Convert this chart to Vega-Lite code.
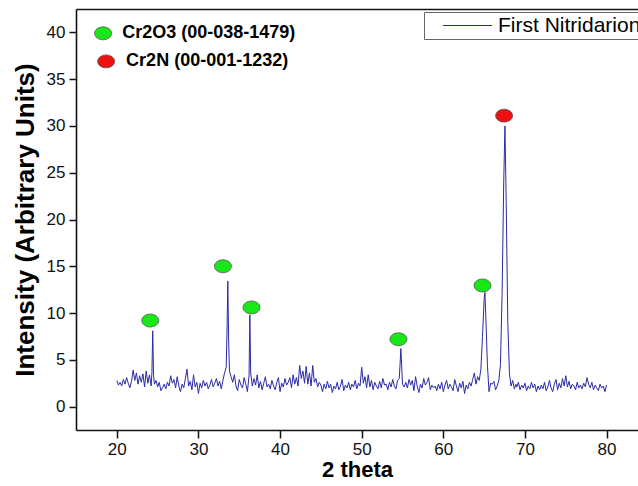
{
  "$schema": "https://vega.github.io/schema/vega-lite/v6.json",
  "width": 562,
  "height": 421,
  "autosize": "none",
  "padding": {"left": 76, "top": 9, "right": 0, "bottom": 56},
  "background": "white",
  "config": {
    "view": {"stroke": null},
    "font": "Liberation Sans",
    "axis": {
      "grid": false,
      "domainColor": "#111",
      "domainWidth": 1.6,
      "tickColor": "#111",
      "tickWidth": 1.5,
      "labelFont": "Liberation Sans",
      "labelFontSize": 17,
      "labelColor": "#111",
      "titleFont": "Liberation Sans",
      "titleFontWeight": "bold",
      "titleColor": "#000"
    }
  },
  "resolve": {"axis": {"x": "independent"}},
  "layer": [
    {
      "data": {"values": [
        {"x":20.0,"y":2.8},{"x":20.2,"y":2.3},{"x":20.4,"y":2.6},{"x":20.6,"y":2.2},{"x":20.8,"y":2.9},
        {"x":21.0,"y":2.4},{"x":21.2,"y":3.1},{"x":21.4,"y":2.5},{"x":21.6,"y":2.0},{"x":21.8,"y":2.7},
        {"x":22.0,"y":3.9},{"x":22.2,"y":2.8},{"x":22.4,"y":3.6},{"x":22.6,"y":2.4},{"x":22.8,"y":3.3},
        {"x":23.0,"y":2.6},{"x":23.2,"y":3.5},{"x":23.4,"y":2.1},{"x":23.6,"y":3.8},{"x":23.8,"y":2.5},
        {"x":24.0,"y":3.4},{"x":24.2,"y":2.2},{"x":24.3,"y":3.6},{"x":24.4,"y":8.1},{"x":24.5,"y":3.4},{"x":24.6,"y":2.4},{"x":24.8,"y":2.8},
        {"x":25.0,"y":2.1},{"x":25.2,"y":2.6},{"x":25.4,"y":1.7},{"x":25.6,"y":2.0},{"x":25.8,"y":2.4},
        {"x":26.0,"y":1.9},{"x":26.2,"y":2.6},{"x":26.4,"y":2.2},{"x":26.6,"y":3.3},{"x":26.8,"y":2.5},
        {"x":27.0,"y":2.9},{"x":27.2,"y":2.0},{"x":27.4,"y":3.2},{"x":27.6,"y":2.2},{"x":27.8,"y":1.6},
        {"x":28.0,"y":2.4},{"x":28.2,"y":2.0},{"x":28.4,"y":3.0},{"x":28.6,"y":4.0},{"x":28.8,"y":2.2},
        {"x":29.0,"y":2.7},{"x":29.2,"y":1.8},{"x":29.4,"y":3.4},{"x":29.6,"y":2.1},{"x":29.8,"y":2.6},
        {"x":30.0,"y":1.4},{"x":30.2,"y":2.5},{"x":30.4,"y":2.0},{"x":30.6,"y":2.8},{"x":30.8,"y":2.2},
        {"x":31.0,"y":2.6},{"x":31.2,"y":1.9},{"x":31.4,"y":2.3},{"x":31.6,"y":2.9},{"x":31.8,"y":2.1},
        {"x":32.0,"y":2.5},{"x":32.2,"y":3.0},{"x":32.4,"y":2.2},{"x":32.6,"y":2.7},{"x":32.8,"y":1.9},
        {"x":33.0,"y":2.8},{"x":33.2,"y":3.6},{"x":33.4,"y":4.2},{"x":33.5,"y":8.0},{"x":33.6,"y":13.4},{"x":33.7,"y":7.0},{"x":33.8,"y":3.8},
        {"x":34.0,"y":3.2},{"x":34.2,"y":2.6},{"x":34.4,"y":3.4},{"x":34.6,"y":2.2},{"x":34.8,"y":1.7},
        {"x":35.0,"y":2.9},{"x":35.2,"y":2.3},{"x":35.4,"y":2.0},{"x":35.6,"y":3.1},{"x":35.8,"y":2.4},
        {"x":36.0,"y":1.6},{"x":36.2,"y":3.3},{"x":36.3,"y":9.8},{"x":36.4,"y":3.6},{"x":36.6,"y":2.2},{"x":36.8,"y":3.0},
        {"x":37.0,"y":2.3},{"x":37.2,"y":3.4},{"x":37.4,"y":2.0},{"x":37.6,"y":2.7},{"x":37.8,"y":1.8},
        {"x":38.0,"y":2.5},{"x":38.2,"y":3.2},{"x":38.4,"y":2.1},{"x":38.6,"y":2.4},{"x":38.8,"y":1.9},
        {"x":39.0,"y":2.8},{"x":39.2,"y":2.2},{"x":39.4,"y":1.8},{"x":39.6,"y":2.6},{"x":39.8,"y":3.1},
        {"x":40.0,"y":1.6},{"x":40.2,"y":2.5},{"x":40.4,"y":2.1},{"x":40.6,"y":3.0},{"x":40.8,"y":2.3},
        {"x":41.0,"y":2.6},{"x":41.2,"y":3.1},{"x":41.4,"y":2.0},{"x":41.6,"y":3.4},{"x":41.8,"y":2.4},
        {"x":42.0,"y":3.1},{"x":42.2,"y":2.2},{"x":42.4,"y":4.4},{"x":42.6,"y":3.0},{"x":42.8,"y":3.8},
        {"x":43.0,"y":2.5},{"x":43.2,"y":4.3},{"x":43.4,"y":2.4},{"x":43.6,"y":3.6},{"x":43.8,"y":2.2},
        {"x":44.0,"y":4.4},{"x":44.2,"y":2.6},{"x":44.4,"y":3.0},{"x":44.6,"y":2.1},{"x":44.8,"y":2.6},
        {"x":45.0,"y":2.3},{"x":45.2,"y":1.6},{"x":45.4,"y":2.4},{"x":45.6,"y":1.9},{"x":45.8,"y":2.7},
        {"x":46.0,"y":2.0},{"x":46.2,"y":2.4},{"x":46.4,"y":1.5},{"x":46.6,"y":2.2},{"x":46.8,"y":1.9},
        {"x":47.0,"y":2.6},{"x":47.2,"y":1.8},{"x":47.4,"y":2.2},{"x":47.6,"y":2.9},{"x":47.8,"y":1.7},
        {"x":48.0,"y":2.3},{"x":48.2,"y":2.0},{"x":48.4,"y":2.6},{"x":48.6,"y":1.8},{"x":48.8,"y":2.4},
        {"x":49.0,"y":2.1},{"x":49.2,"y":2.8},{"x":49.4,"y":1.9},{"x":49.6,"y":2.5},{"x":49.8,"y":2.2},
        {"x":50.0,"y":4.2},{"x":50.2,"y":2.5},{"x":50.4,"y":3.2},{"x":50.6,"y":2.0},{"x":50.8,"y":3.4},
        {"x":51.0,"y":2.1},{"x":51.2,"y":2.8},{"x":51.4,"y":1.8},{"x":51.6,"y":2.6},{"x":51.8,"y":2.2},
        {"x":52.0,"y":1.9},{"x":52.2,"y":2.7},{"x":52.4,"y":2.0},{"x":52.6,"y":3.0},{"x":52.8,"y":2.3},
        {"x":53.0,"y":2.4},{"x":53.2,"y":1.8},{"x":53.4,"y":2.6},{"x":53.6,"y":2.1},{"x":53.8,"y":2.9},
        {"x":54.0,"y":2.2},{"x":54.2,"y":1.9},{"x":54.4,"y":2.8},{"x":54.6,"y":3.0},{"x":54.7,"y":4.5},{"x":54.8,"y":6.2},{"x":54.9,"y":4.3},
        {"x":55.0,"y":2.4},{"x":55.2,"y":2.1},{"x":55.4,"y":2.6},{"x":55.6,"y":2.0},{"x":55.8,"y":2.9},
        {"x":56.0,"y":2.3},{"x":56.2,"y":2.8},{"x":56.4,"y":1.7},{"x":56.6,"y":3.2},{"x":56.8,"y":2.2},
        {"x":57.0,"y":1.5},{"x":57.2,"y":2.4},{"x":57.4,"y":2.0},{"x":57.6,"y":3.0},{"x":57.8,"y":2.3},
        {"x":58.0,"y":2.6},{"x":58.2,"y":3.1},{"x":58.4,"y":1.8},{"x":58.6,"y":2.3},{"x":58.8,"y":2.0},
        {"x":59.0,"y":2.2},{"x":59.2,"y":1.7},{"x":59.4,"y":2.4},{"x":59.6,"y":1.9},{"x":59.8,"y":2.6},
        {"x":60.0,"y":1.6},{"x":60.2,"y":2.3},{"x":60.4,"y":2.8},{"x":60.6,"y":1.9},{"x":60.8,"y":2.4},
        {"x":61.0,"y":2.1},{"x":61.2,"y":1.7},{"x":61.4,"y":2.9},{"x":61.6,"y":2.2},{"x":61.8,"y":1.6},
        {"x":62.0,"y":2.5},{"x":62.2,"y":2.0},{"x":62.4,"y":2.7},{"x":62.6,"y":1.4},{"x":62.8,"y":2.3},
        {"x":63.0,"y":1.9},{"x":63.2,"y":2.6},{"x":63.4,"y":2.2},{"x":63.6,"y":2.9},{"x":63.8,"y":3.6},
        {"x":64.0,"y":2.4},{"x":64.2,"y":3.2},{"x":64.4,"y":2.8},{"x":64.6,"y":4.0},{"x":64.8,"y":7.5},
        {"x":65.0,"y":11.5},{"x":65.1,"y":12.2},{"x":65.25,"y":8.5},{"x":65.4,"y":4.5},{"x":65.6,"y":1.6},{"x":65.8,"y":2.5},
        {"x":66.0,"y":2.4},{"x":66.2,"y":2.7},{"x":66.4,"y":1.8},{"x":66.6,"y":2.2},{"x":66.8,"y":2.8},
        {"x":67.0,"y":4.5},{"x":67.2,"y":12.0},{"x":67.4,"y":24.0},{"x":67.55,"y":30.0},{"x":67.7,"y":22.0},{"x":67.9,"y":9.0},
        {"x":68.1,"y":3.5},{"x":68.3,"y":2.2},{"x":68.5,"y":2.8},{"x":68.7,"y":1.9},{"x":68.9,"y":2.4},
        {"x":69.0,"y":2.1},{"x":69.2,"y":2.6},{"x":69.4,"y":1.8},{"x":69.6,"y":2.3},{"x":69.8,"y":2.0},
        {"x":70.0,"y":2.5},{"x":70.2,"y":1.7},{"x":70.4,"y":2.2},{"x":70.6,"y":1.9},{"x":70.8,"y":2.6},
        {"x":71.0,"y":2.0},{"x":71.2,"y":2.4},{"x":71.4,"y":1.6},{"x":71.6,"y":2.2},{"x":71.8,"y":1.8},
        {"x":72.0,"y":2.3},{"x":72.2,"y":1.9},{"x":72.4,"y":2.6},{"x":72.6,"y":1.7},{"x":72.8,"y":2.1},
        {"x":73.0,"y":2.8},{"x":73.2,"y":2.0},{"x":73.4,"y":1.6},{"x":73.6,"y":2.4},{"x":73.8,"y":2.9},
        {"x":74.0,"y":1.8},{"x":74.2,"y":2.5},{"x":74.4,"y":2.0},{"x":74.6,"y":3.0},{"x":74.8,"y":2.2},
        {"x":75.0,"y":3.3},{"x":75.2,"y":2.1},{"x":75.4,"y":2.7},{"x":75.6,"y":1.9},{"x":75.8,"y":2.4},
        {"x":76.0,"y":2.2},{"x":76.2,"y":1.8},{"x":76.4,"y":2.6},{"x":76.6,"y":2.0},{"x":76.8,"y":2.3},
        {"x":77.0,"y":1.9},{"x":77.2,"y":2.5},{"x":77.4,"y":2.1},{"x":77.6,"y":3.1},{"x":77.8,"y":2.4},
        {"x":78.0,"y":2.0},{"x":78.2,"y":2.6},{"x":78.4,"y":1.8},{"x":78.6,"y":2.3},{"x":78.8,"y":2.0},
        {"x":79.0,"y":1.7},{"x":79.2,"y":2.4},{"x":79.4,"y":2.0},{"x":79.6,"y":2.2},{"x":79.8,"y":1.6},
        {"x":80.0,"y":2.3}
      ]},
      "mark": {"type": "line", "strokeWidth": 1, "interpolate": "linear"},
      "encoding": {
        "x": {"field": "x", "type": "quantitative",
          "scale": {"domain": [15, 83.85], "nice": false, "zero": false},
          "axis": {"orient": "bottom", "values": [20,30,40,50,60,70,80], "tickSize": 8, "labelPadding": 3,
            "title": "2 theta", "titleFontSize": 22, "titlePadding": 2}},
        "y": {"field": "y", "type": "quantitative",
          "scale": {"domain": [-2.5, 42.5], "nice": false, "zero": false},
          "axis": {"values": [0,5,10,15,20,25,30,35,40], "tickSize": 7, "labelPadding": 4,
            "title": "Intensity (Arbitrary Units)", "titleFontSize": 26, "titlePadding": 8}},
        "color": {"datum": "First Nitridarion",
          "scale": {"range": ["#2a2aa6"]},
          "legend": {"orient": "none", "legendX": 348, "legendY": 3, "title": null,
            "symbolType": "M-3,0H3", "symbolSize": 267, "symbolStrokeWidth": 1, "symbolFillColor": "transparent",
            "labelFontSize": 21, "labelFont": "Liberation Sans", "labelColor": "#000", "labelLimit": 400,
            "strokeColor": "#666", "fillColor": "white", "padding": 3, "symbolOffset": 30, "labelOffset": 20}}
      }
    },
    {
      "data": {"values": [
        {"x": 24.1, "y": 9.2, "phase": "Cr2O3"},
        {"x": 33.0, "y": 15.0, "phase": "Cr2O3"},
        {"x": 36.5, "y": 10.6, "phase": "Cr2O3"},
        {"x": 54.5, "y": 7.2, "phase": "Cr2O3"},
        {"x": 64.8, "y": 12.95, "phase": "Cr2O3"},
        {"x": 67.45, "y": 31.1, "phase": "Cr2N"},
        {"x": 18.32, "y": 39.9, "phase": "Cr2O3"},
        {"x": 18.69, "y": 36.9, "phase": "Cr2N"}
      ]},
      "mark": {"type": "point", "shape": "M-1,0A1,0.76,0,1,0,1,0A1,0.76,0,1,0,-1,0Z", "size": 289,
        "filled": true, "stroke": "#555", "strokeWidth": 0.8, "opacity": 1},
      "encoding": {
        "x": {"field": "x", "type": "quantitative",
          "axis": {"orient": "top", "labels": false, "ticks": false, "title": null, "domain": true}},
        "y": {"field": "y", "type": "quantitative"},
        "fill": {"field": "phase", "type": "nominal",
          "scale": {"domain": ["Cr2O3", "Cr2N"], "range": ["#18e818", "#ee1111"]}, "legend": null}
      }
    },
    {
      "data": {"values": [
        {"x": 20.66, "y": 39.9, "label": "Cr2O3 (00-038-1479)"},
        {"x": 21.14, "y": 36.9, "label": "Cr2N (00-001-1232)"}
      ]},
      "mark": {"type": "text", "align": "left", "baseline": "middle", "fontWeight": "bold", "fontSize": 18,
        "font": "Liberation Sans", "color": "#000"},
      "encoding": {
        "x": {"field": "x", "type": "quantitative", "axis": null},
        "y": {"field": "y", "type": "quantitative"},
        "text": {"field": "label"}
      }
    }
  ]
}
